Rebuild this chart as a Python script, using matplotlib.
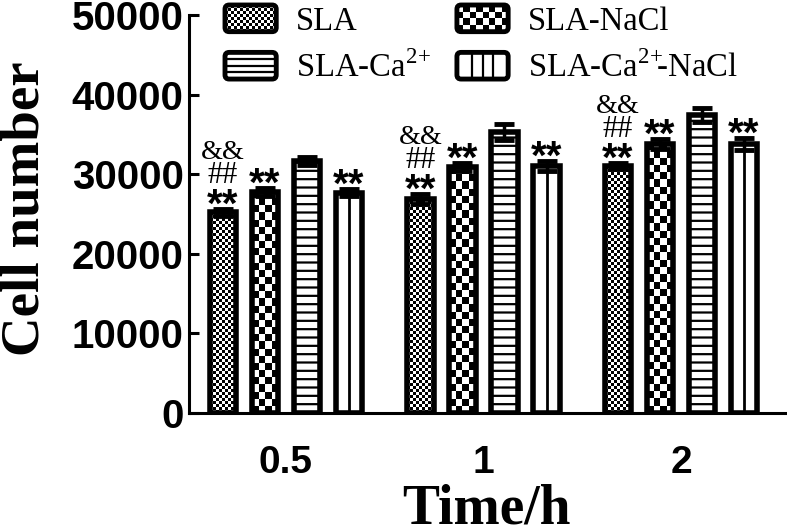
import numpy as np
import matplotlib
matplotlib.use('Agg')
import matplotlib.pyplot as plt
from matplotlib.patches import Rectangle, FancyBboxPatch
from matplotlib.lines import Line2D
from matplotlib.legend_handler import HandlerBase
from matplotlib.textpath import TextPath
from matplotlib.font_manager import FontProperties

plt.rcParams['hatch.linewidth'] = 1.6
plt.rcParams['mathtext.fontset'] = 'custom'
plt.rcParams['mathtext.rm'] = 'Liberation Serif'

times = ['0.5', '1', '2']
labels = ['SLA', 'SLA-NaCl', r'SLA-Ca$^{\mathrm{2\!+}}$',
          r'SLA-Ca$^{\mathrm{2\!+}}\!\!$-NaCl']
sla = [25200, 26900, 31000]
sla_err = [400, 600, 400]
nacl = [27800, 30900, 33800]
nacl_err = [500, 500, 600]
ca = [31700, 35300, 37400]
ca_err = [500, 1000, 900]
canacl = [27700, 31000, 33800]
canacl_err = [400, 600, 800]
stars = ['**', '**', '', '**']
sla_extra = ['##', '&&']

values = [sla, nacl, ca, canacl]
errors = [sla_err, nacl_err, ca_err, canacl_err]

W, H, DPI = 7.87, 5.31, 100
fig = plt.figure(figsize=(W, H), dpi=DPI)
ax = fig.add_axes([189/787, 118/531, 598/787, 398/531])

xmin, xmax = -0.491, 2.537
ymax = 50000
px_x = 598 / (xmax - xmin)
px_y = 398 / ymax

x = np.arange(len(times))
offset = 0.213
width = 0.134
edge_lw = 4

star_fp = FontProperties(family='Liberation Sans', weight='bold')
serif_fp = FontProperties(family='Liberation Serif')


def fit_text(s, fp, bottom_px, height_px):
    # size text so its glyphs are height_px tall, bottom at bottom_px above anchor
    ext = TextPath((0, 0), s, size=1, prop=fp).get_extents()
    size = height_px * 0.72 / ext.height
    return size, bottom_px * 0.72 - ext.y0 * size


def checker(nx, ny):
    return (np.add.outer(np.arange(ny), np.arange(nx)) % 2).astype(float)


star_size, star_dy = fit_text('**', star_fp, 5, 15)
extra_fit = [fit_text('##', serif_fp, 26, 20), fit_text('&&', serif_fp, 50, 19)]

for k, (vals, errs) in enumerate(zip(values, errors)):
    xs = x + (k - 1.5) * offset
    hatch = '--' if k == 2 else None
    ax.bar(xs, vals, width, facecolor='none', edgecolor='black', lw=edge_lw,
           hatch=hatch, zorder=3)
    if k in (0, 1):
        cell = 3.0 if k == 0 else 7.2
        for xi, v in zip(xs, vals):
            nx = max(1, int(round(width * px_x / cell)))
            ny = max(1, int(round(v * px_y / cell)))
            ax.imshow(checker(nx, ny), cmap='gray', vmin=0, vmax=1,
                      extent=(xi - width/2, xi + width/2, 0, v),
                      aspect='auto', interpolation='nearest', zorder=2)
    if k == 3:
        ax.vlines(xs, 0, vals, color='black', lw=2, zorder=2)
    ax.errorbar(xs, vals, yerr=errs, fmt='none', ecolor='black',
                elinewidth=2.5, capsize=7, capthick=3.5, zorder=4)
    for xi, v, e in zip(xs, vals, errs):
        if stars[k]:
            ax.annotate(stars[k], xy=(xi, v + e), xytext=(0, star_dy),
                        textcoords='offset points', ha='center', va='baseline',
                        fontsize=star_size, fontweight='bold',
                        family='Liberation Sans', zorder=5)
        if k == 0:
            for s, (sz, dy) in zip(sla_extra, extra_fit):
                ax.annotate(s, xy=(xi, v + e), xytext=(0, dy),
                            textcoords='offset points', ha='center',
                            va='baseline', fontsize=sz,
                            family='Liberation Serif', zorder=5)

ax.set_xlim(xmin, xmax)
ax.set_ylim(0, ymax)
ax.set_xticks(x)
ax.set_xticklabels(times)
ax.set_yticks(np.arange(0, 50001, 10000))
for sp in ['top', 'right']:
    ax.spines[sp].set_visible(False)
for sp in ['left', 'bottom']:
    ax.spines[sp].set_linewidth(2.2)
ax.tick_params(axis='y', direction='in', length=7, width=2.2, pad=4,
               labelsize=29)
ax.tick_params(axis='x', length=0, pad=23, labelsize=28)
for t in ax.get_xticklabels() + ax.get_yticklabels():
    t.set_fontfamily('Liberation Sans')
    t.set_fontweight('bold')

ax.set_ylabel('Cell number', fontsize=39.5, fontweight='bold',
              family='Liberation Serif')
ax.yaxis.set_label_coords(-0.232, 0.513)
ax.set_xlabel('Time/h', fontsize=40, fontweight='bold',
              family='Liberation Serif')
ax.xaxis.set_label_coords(0.498, -0.176)


class PatternHandler(HandlerBase):
    def __init__(self, kind, cell=0):
        super().__init__()
        self.kind = kind
        self.cell = cell

    def create_artists(self, legend, orig_handle, xdescent, ydescent,
                       width, height, fontsize, trans):
        x0, y0 = -xdescent, -ydescent
        arts = []
        if self.kind == 'checker':
            nx = int(round(width / self.cell))
            ny = int(round(height / self.cell))
            cw, ch = width / nx, height / ny
            for i in range(nx):
                for j in range(ny):
                    if (i + j) % 2 == 0:
                        arts.append(Rectangle((x0 + i*cw, y0 + j*ch), cw, ch,
                                              facecolor='black', edgecolor='none',
                                              transform=trans))
        elif self.kind == 'h':
            for f in (0.25, 0.5, 0.75):
                arts.append(Line2D([x0, x0 + width], [y0 + f*height]*2,
                                   color='black', lw=1.6, transform=trans))
        elif self.kind == 'v':
            for f in (0.3, 0.5, 0.7):
                arts.append(Line2D([x0 + f*width]*2, [y0, y0 + height],
                                   color='black', lw=1.6, transform=trans))
        arts.append(FancyBboxPatch((x0, y0), width, height,
                                   boxstyle='round,pad=0,rounding_size=3',
                                   facecolor='none', edgecolor='black', lw=3.5,
                                   transform=trans))
        return arts


proxies = [Rectangle((0, 0), 1, 1) for _ in labels]
handlers = [PatternHandler('checker', 2.2), PatternHandler('checker', 4.5),
            PatternHandler('h'), PatternHandler('v')]
order = [0, 2, 1, 3]
leg = ax.legend([proxies[i] for i in order], [labels[i] for i in order],
                handler_map={proxies[i]: handlers[i] for i in range(4)},
                ncol=2, frameon=False, loc='upper left',
                bbox_to_anchor=(225/787, 1 - 5/531), bbox_transform=fig.transFigure,
                borderpad=0, borderaxespad=0, handlelength=1.57, handleheight=0.88,
                handletextpad=0.6, columnspacing=0.8, labelspacing=0.45,
                prop={'family': 'Liberation Serif', 'size': 23.5})

fig.savefig('out.png', dpi=DPI)
